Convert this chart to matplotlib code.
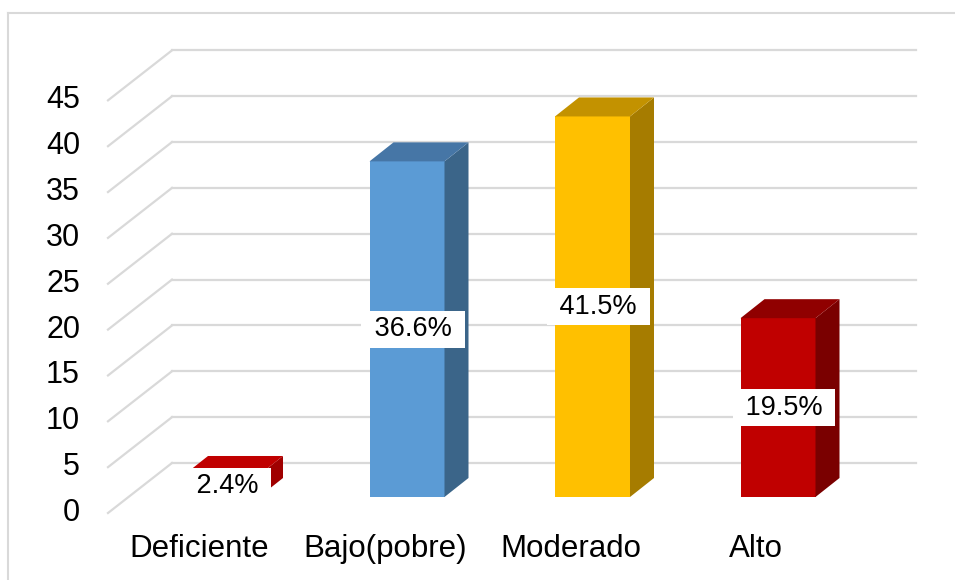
import numpy as np
import matplotlib
matplotlib.use("Agg")
import matplotlib.pyplot as plt
from matplotlib.patches import Polygon, Rectangle
from matplotlib.lines import Line2D

# Data
categories = ["Deficiente", "Bajo(pobre)", "Moderado", "Alto"]
values = [2.4, 36.6, 41.5, 19.5]
labels = ["2.4%", "36.6%", "41.5%", "19.5%"]
yticks = [0, 5, 10, 15, 20, 25, 30, 35, 40, 45]

face_colors = ["#C00000", "#5B9BD5", "#FFC000", "#C00000"]
top_colors = ["#C00000", "#4676A6", "#C39200", "#900000"]
side_colors = ["#A00000", "#3B6589", "#A67C00", "#7A0000"]

plt.rcParams['font.family'] = ['Liberation Sans', 'DejaVu Sans']

W, H = 955, 580
fig = plt.figure(figsize=(W / 100, H / 100), dpi=100)
ax = fig.add_axes([0, 0, 1, 1])

# scales: category units horizontally, value units vertically
px_cat = 185.5      # pixels per category step
px_val = 9.17       # pixels per value unit
x0_px, y0_px = 221.5, 497   # first bar centre, bar floor
ax.set_xlim((0 - x0_px) / px_cat, (W - x0_px) / px_cat)
ax.set_ylim((y0_px - H) / px_val, y0_px / px_val)
ax.axis("off")

def dxp(p):
    return p / px_cat

def dyp(p):
    return p / px_val

grid_c = "#D9D9D9"
# wall: back plane and front edge relative to bar front plane
back_dx, back_dy = dxp(172 - x0_px), dyp(497 - 463)
front_dx, front_dy = dxp(108 - x0_px), dyp(497 - 513)
right_x = dxp(916 - x0_px)
for t in yticks:
    ax.plot([back_dx, right_x], [t + back_dy, t + back_dy], color=grid_c, lw=1.6, zorder=1)
    ax.plot([front_dx, back_dx], [t + front_dy, t + back_dy], color=grid_c, lw=1.6, zorder=1)
    ax.text(dxp(80 - x0_px), t + front_dy, str(t), ha="right", va="center",
            fontsize=22, color="black")

# 3D bars
w = dxp(75)
ddx, ddy = dxp(24), dyp(19)
for i, v in enumerate(values):
    l, r = i - w / 2, i + w / 2
    ax.add_patch(Rectangle((l, 0), w, v, facecolor=face_colors[i], edgecolor="none", zorder=3))
    ax.add_patch(Polygon([(r, 0), (r + ddx, ddy), (r + ddx, v + ddy), (r, v)],
                         facecolor=side_colors[i], edgecolor="none", zorder=3))
    ax.add_patch(Polygon([(l, v), (r, v), (r + ddx, v + ddy), (l + ddx, v + ddy)],
                         facecolor=top_colors[i], edgecolor="none", zorder=3))
    ax.text(i + dxp(6), v / 2, " " + labels[i] + " ", ha="center", va="center",
            fontsize=19.5, color="black", zorder=5,
            bbox=dict(boxstyle="square,pad=0.2", facecolor="white", edgecolor="none"))
    ax.text(i - dxp(22), dyp(497 - 549), categories[i], ha="center", va="center",
            fontsize=22.5, color="black")

# outer chart border
fig.add_artist(Line2D([8 / W, 8 / W], [0, 1 - 13 / H], transform=fig.transFigure,
                      color=grid_c, lw=1.5))
fig.add_artist(Line2D([8 / W, 1], [1 - 13 / H, 1 - 13 / H], transform=fig.transFigure,
                      color=grid_c, lw=1.5))

fig.savefig("out.png", dpi=100)
